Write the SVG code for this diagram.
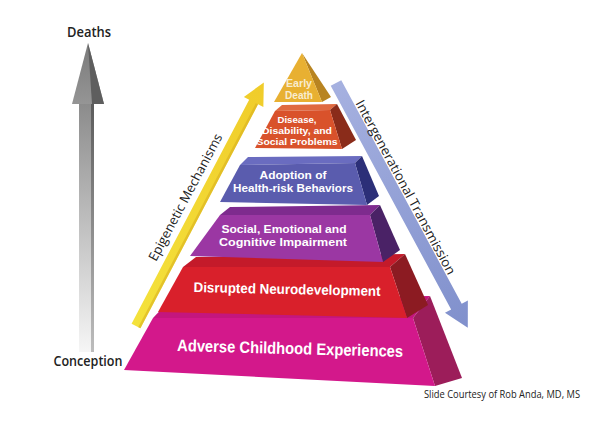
<svg xmlns="http://www.w3.org/2000/svg" width="600" height="429" viewBox="0 0 600 429">
<defs>
<linearGradient id="gShaft" x1="0" y1="0" x2="0" y2="1">
<stop offset="0" stop-color="#8a8a8a"/><stop offset="1" stop-color="#f6f6f6"/>
</linearGradient>
<linearGradient id="gShaftEdge" x1="0" y1="0" x2="0" y2="1">
<stop offset="0" stop-color="#5a5a5a"/><stop offset="1" stop-color="#bdbdbd"/>
</linearGradient>
<linearGradient id="gHead" x1="0" y1="0" x2="0" y2="1">
<stop offset="0" stop-color="#7a7a7a"/><stop offset="1" stop-color="#959595"/>
</linearGradient>
<linearGradient id="gYellow" x1="0" y1="0" x2="1" y2="0">
<stop offset="0" stop-color="#f4e23c"/><stop offset="1" stop-color="#f0cc2a"/>
</linearGradient>
<linearGradient id="gBlue" x1="0" y1="0" x2="1" y2="0">
<stop offset="0" stop-color="#a6b1e0"/><stop offset="1" stop-color="#8090cc"/>
</linearGradient>
<style>
.lbl{font-family:"Liberation Sans",Arial,sans-serif;font-weight:700;fill:#ffffff;text-anchor:middle}
.axis{font-family:"Open Sans","DejaVu Sans",sans-serif;font-weight:600;fill:#222222;text-anchor:middle}
.note{font-family:"Open Sans","DejaVu Sans",sans-serif;fill:#222222}
</style>
</defs>
<rect width="600" height="429" fill="#ffffff"/>

<g id="connectors">
  <g id="arrow-time">
    <rect x="79" y="100" width="15" height="252" fill="url(#gShaft)"/>
    <rect x="91" y="100" width="3" height="252" fill="url(#gShaftEdge)"/>
    <polygon points="88,43 72,104 104,104" fill="url(#gHead)"/>
    <polygon points="88,43 104,104 92,104" fill="#5e5e5e"/>
  </g>
  <g id="arrow-epigenetic" transform="translate(136,326) rotate(-62.3)">
    <polygon points="0,-5 253,-5 253,-11 275,0 253,11 253,5 0,5" fill="url(#gYellow)"/>
    <polygon points="0,2.5 253,2.5 253,5 0,5" fill="#d8b020" opacity="0.6"/>
  </g>
  <g id="arrow-intergenerational" transform="translate(336,83) rotate(61.7)">
    <polygon points="0,-6 254,-6 254,-13 278,0 254,13 254,6 0,6" fill="url(#gBlue)"/>
  </g>
</g>

<g id="layer-ace">
  <polygon points="153,318 413,318 430,296 170,300" fill="#c4167e"/>
  <polygon points="413,318 430,296 462,378 435,386" fill="#9c1d5a"/>
  <polygon points="153,318 413,318 435,386 124,370" fill="#d3188b"/>
  <text class="lbl" x="290" y="354" font-size="16.5" textLength="226" lengthAdjust="spacingAndGlyphs" transform="rotate(1.5 290 354)">Adverse Childhood Experiences</text>
</g>

<g id="layer-neuro">
  <polygon points="183,267 390,267 405,254 196,257" fill="#c41a2a"/>
  <polygon points="390,267 405,254 428,305 407,318" fill="#8c1b22"/>
  <polygon points="183,267 390,267 407,318 158,312" fill="#d9202b"/>
  <text class="lbl" x="287" y="294" font-size="14" textLength="187" lengthAdjust="spacingAndGlyphs" transform="rotate(1.2 287 294)">Disrupted Neurodevelopment</text>
</g>

<g id="layer-social">
  <polygon points="220,215 370,215 380,205 230,207" fill="#7e2b8e"/>
  <polygon points="370,215 380,205 400,250 383,262" fill="#4a2266"/>
  <polygon points="220,215 370,215 383,262 190,256" fill="#9b37a3"/>
  <text class="lbl" x="284" y="233" font-size="11.2" textLength="125" lengthAdjust="spacingAndGlyphs">Social, Emotional and</text>
  <text class="lbl" x="283" y="246" font-size="11.2" textLength="128" lengthAdjust="spacingAndGlyphs">Cognitive Impairment</text>
</g>

<g id="layer-health">
  <polygon points="240,165 355,163 362,156 248,157" fill="#6a6cc0"/>
  <polygon points="355,163 362,156 379,196 367,205" fill="#2c2f78"/>
  <polygon points="240,165 355,163 367,205 220,202" fill="#5a5cae"/>
  <text class="lbl" x="293" y="179" font-size="11" textLength="67" lengthAdjust="spacingAndGlyphs">Adoption of</text>
  <text class="lbl" x="293" y="192" font-size="11" textLength="120" lengthAdjust="spacingAndGlyphs">Health-risk Behaviors</text>
</g>

<g id="layer-disease">
  <polygon points="275,111 330,110 337,104 282,105" fill="#e06a40"/>
  <polygon points="330,110 337,104 356,140 342,149" fill="#8a2c1a"/>
  <polygon points="275,111 330,110 342,149 255,148" fill="#d9522b"/>
  <text class="lbl" x="297" y="122.5" font-size="9.4" textLength="39" lengthAdjust="spacingAndGlyphs">Disease,</text>
  <text class="lbl" x="297" y="133.5" font-size="9.4" textLength="70" lengthAdjust="spacingAndGlyphs">Disability, and</text>
  <text class="lbl" x="297" y="144.5" font-size="9.4" textLength="81" lengthAdjust="spacingAndGlyphs">Social Problems</text>
</g>

<g id="layer-death">
  <polygon points="302,53 322,102 331,97" fill="#b88420"/>
  <polygon points="302,53 274,102 322,102" fill="#e8b032"/>
  <text class="lbl" x="299" y="87" font-size="10" textLength="26" lengthAdjust="spacingAndGlyphs" style="fill:#f8ecd0">Early</text>
  <text class="lbl" x="299" y="99" font-size="10" textLength="28" lengthAdjust="spacingAndGlyphs" style="fill:#f8ecd0">Death</text>
</g>

<g id="label-epigenetic">
  <text class="axis" x="185" y="197" font-size="13" textLength="142" lengthAdjust="spacingAndGlyphs" dominant-baseline="central" transform="rotate(-62 185 197)" style="font-weight:500">Epigenetic Mechanisms</text>
</g>
<g id="label-intergenerational">
  <text class="axis" x="406" y="187" font-size="13" textLength="196" lengthAdjust="spacingAndGlyphs" dominant-baseline="central" transform="rotate(61.7 406 187)" style="font-weight:500">Intergenerational Transmission</text>
</g>
<g id="label-deaths">
  <text class="axis" x="89" y="37" font-size="14" textLength="44" lengthAdjust="spacingAndGlyphs">Deaths</text>
</g>
<g id="label-conception">
  <text class="axis" x="88" y="366" font-size="14" textLength="69" lengthAdjust="spacingAndGlyphs">Conception</text>
</g>
<g id="label-credit">
  <text class="note" x="424" y="398" font-size="10" textLength="156" lengthAdjust="spacingAndGlyphs">Slide Courtesy of Rob Anda, MD, MS</text>
</g>
</svg>
